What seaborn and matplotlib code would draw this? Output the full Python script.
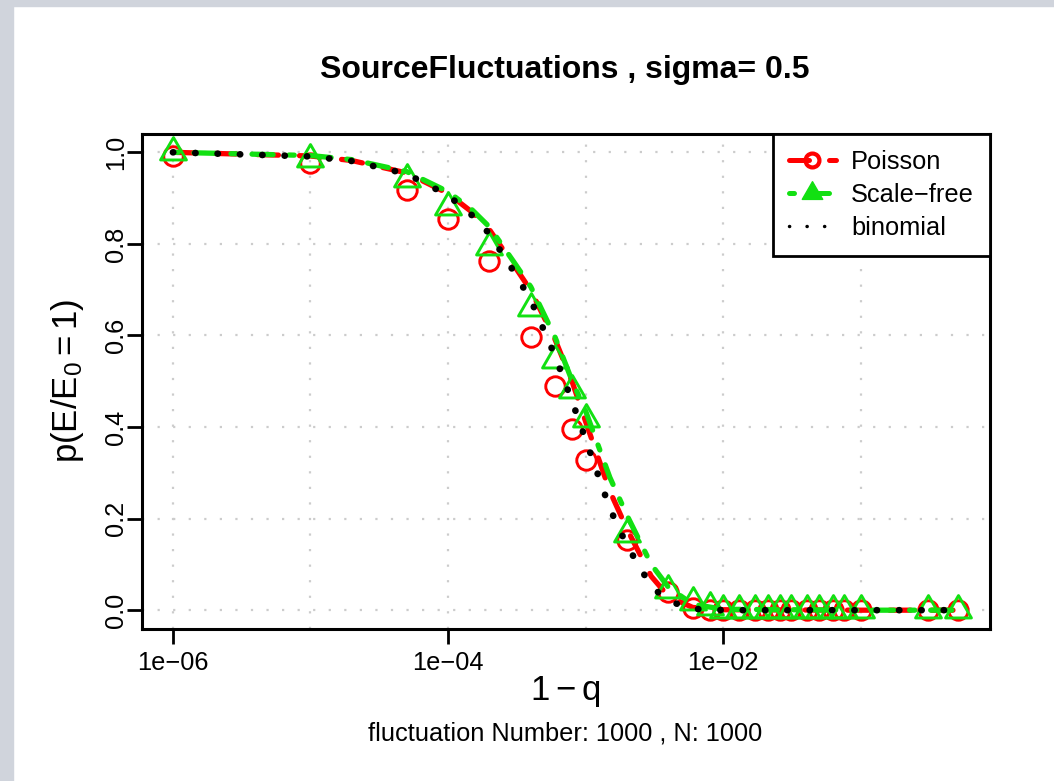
# %% Imports
import numpy as np
import matplotlib
matplotlib.use("Agg")
import matplotlib.pyplot as plt
from matplotlib.lines import Line2D
from matplotlib.path import Path
from matplotlib.patches import Rectangle
import seaborn as sns

# %% values
q_pts = [1e-6, 1e-5, 5e-5, 1e-4, 2e-4, 4e-4, 6e-4, 8e-4, 1e-3, 2e-3, 4e-3, 6e-3, 8e-3,
         0.01, 0.013, 0.017, 0.021, 0.026, 0.031, 0.041, 0.05, 0.063, 0.075, 0.1, 0.31, 0.51]
p_poisson_pts = [0.992, 0.977, 0.918, 0.854, 0.762, 0.597, 0.489, 0.396, 0.327, 0.153, 0.039, 0.005, 0.0,
                 0, 0, 0, 0, 0, 0, 0, 0, 0, 0, 0, 0, 0]
p_scalefree_pts = [1.0, 0.985, 0.942, 0.881, 0.794, 0.659, 0.546, 0.48, 0.417, 0.167, 0.045, 0.018, 0.007,
                   0, 0, 0, 0, 0, 0, 0, 0, 0, 0, 0, 0, 0]

q_line = [1e-6, 1e-5, 2e-5, 5e-5, 1e-4, 1.5e-4, 2e-4, 3e-4, 4e-4, 6e-4, 8e-4, 1e-3,
          1.5e-3, 2e-3, 3e-3, 4e-3, 6e-3, 1e-2, 0.1, 0.51]
p_poisson_line = [1.0, 0.992, 0.982, 0.955, 0.910, 0.869, 0.831, 0.754, 0.698, 0.591, 0.498, 0.412,
                  0.260, 0.177, 0.074, 0.030, 0.006, 0.001, 0, 0]
p_scalefree_line = [1.0, 0.993, 0.984, 0.958, 0.914, 0.874, 0.837, 0.761, 0.706, 0.596, 0.50, 0.435,
                    0.29, 0.207, 0.10, 0.05, 0.013, 0.002, 0, 0]
p_binomial_line = [1.0, 0.991, 0.981, 0.953, 0.906, 0.862, 0.822, 0.740, 0.677, 0.555, 0.455, 0.373,
                   0.222, 0.141, 0.052, 0.020, 0.003, 0, 0, 0]

x_ticks = [1e-6, 1e-4, 1e-2]
x_ticklabels = ["1e\u221206", "1e\u221204", "1e\u221202"]
y_ticks = [0.0, 0.2, 0.4, 0.6, 0.8, 1.0]
y_ticklabels = ["0.0", "0.2", "0.4", "0.6", "0.8", "1.0"]
grid_x = [1e-6, 1e-5, 1e-4, 1e-3, 1e-2, 1e-1]

# %% style
sns.set_style("white")
plt.rcParams["font.family"] = ["Liberation Sans", "DejaVu Sans"]
plt.rcParams["text.color"] = "black"
plt.rcParams["mathtext.fontset"] = "custom"
plt.rcParams["mathtext.rm"] = "Liberation Sans"
plt.rcParams["mathtext.it"] = "Liberation Sans"

RED = "#ff0000"
GREEN = "#12e012"
BASE = 18.3

# R-style triangle (centroid at the data point)
tri = Path([(0, 1.555), (1.347, -0.778), (-1.347, -0.778), (0, 1.555)], closed=True)

fig = plt.figure(figsize=(10.54, 7.81), dpi=100)
fig.patches.append(Rectangle((0, 0), 13 / 1054, 1, transform=fig.transFigure,
                             color="#d0d4dc", zorder=-5))
fig.patches.append(Rectangle((0, 1 - 6 / 781), 1, 6 / 781, transform=fig.transFigure,
                             color="#d0d4dc", zorder=-5))

ax = fig.add_axes([141.5 / 1054, 1 - 628.5 / 781, 848 / 1054, 494.5 / 781])
ax.set_xscale("log")

# grid
for gx in grid_x:
    ax.axvline(gx, color="#cccccc", lw=1.6, ls=(0, (1, 6)), zorder=0)
for gy in y_ticks:
    ax.axhline(gy, color="#cccccc", lw=1.6, ls=(0, (1, 6)), zorder=0)

# Poisson
sns.lineplot(x=q_line, y=p_poisson_line, ax=ax, color=RED, lw=3.8, ls=(0, (4, 4)),
             dash_capstyle="round", estimator=None, sort=False, zorder=2)
sns.lineplot(x=q_pts, y=p_poisson_pts, ax=ax, ls="", marker="o", ms=14, mfc="none",
             mec=RED, mew=2.1, estimator=None, sort=False, zorder=2)
# Scale-free
sns.lineplot(x=q_line, y=p_scalefree_line, ax=ax, color=GREEN, lw=3.8, ls=(0, (1, 3, 4, 3)),
             dash_capstyle="round", estimator=None, sort=False, zorder=3)
sns.lineplot(x=q_pts, y=p_scalefree_pts, ax=ax, ls="", marker=tri, ms=21.5, mfc="none",
             mec=GREEN, mew=2.1, estimator=None, sort=False, zorder=3)
# binomial
sns.lineplot(x=q_line, y=p_binomial_line, ax=ax, color="black", lw=4.8, ls=(0, (0.05, 3.3)),
             dash_capstyle="round", estimator=None, sort=False, zorder=4)

# limits like R (4% padding, log x)
lx = np.log10([min(q_pts), max(q_pts)])
pad = 0.04 * (lx[1] - lx[0])
ax.set_xlim(10 ** (lx[0] - pad), 10 ** (lx[1] + pad))
ax.set_ylim(-0.04, 1.04)

ax.set_xticks(x_ticks, x_ticklabels)
ax.minorticks_off()
ax.set_yticks(y_ticks, y_ticklabels)
for lbl in ax.get_yticklabels():
    lbl.set_rotation(90)
    lbl.set_va("center")
ax.tick_params(axis="both", direction="out", length=11, width=2, color="black",
               labelsize=BASE, labelcolor="black", bottom=True, left=True)
ax.tick_params(axis="x", pad=5)
ax.tick_params(axis="y", pad=-1.5)
for sp in ax.spines.values():
    sp.set_color("black")
    sp.set_linewidth(2.2)
ax.set_xlabel("")
ax.set_ylabel("")

# legend
handles = [
    Line2D([], [], color=RED, lw=3.6, ls=(0, (4, 4)), dash_capstyle="round",
           marker="o", ms=10, mfc="none", mec=RED, mew=3),
    Line2D([], [], color=GREEN, lw=3.6, ls=(0, (1, 3, 4, 3)), dash_capstyle="round",
           marker=tri, ms=17, mfc=GREEN, mec=GREEN, mew=1),
    Line2D([], [], color="black", lw=2.5, ls=(0, (0.05, 5)), dash_capstyle="round"),
]
leg = ax.legend(handles, ["Poisson", "Scale\u2212free", "binomial"], loc="upper right",
                borderaxespad=0, fontsize=BASE, frameon=True, fancybox=False,
                handlelength=1.85, handletextpad=0.6, labelspacing=0.36,
                borderpad=0.62, numpoints=1)
leg.get_frame().set_edgecolor("black")
leg.get_frame().set_linewidth(2.0)
leg.get_frame().set_alpha(1)

# titles
fig.text(565 / 1054, 1 - 70 / 781, "SourceFluctuations , sigma= 0.5", ha="center",
         va="center", fontsize=23, fontweight="bold")
fig.text(565 / 1054, 1 - 700 / 781, r"$\mathrm{1-q}$", ha="center", va="baseline", fontsize=25)
fig.text(565 / 1054, 1 - 741 / 781, "fluctuation Number: 1000 , N: 1000", ha="center",
         va="baseline", fontsize=BASE)
fig.text(68 / 1054, 1 - 381 / 781, r"$\mathrm{p(E/E_0=1)}$", ha="center", va="center",
         rotation=90, fontsize=25)

fig.savefig("out.png", dpi=100)
